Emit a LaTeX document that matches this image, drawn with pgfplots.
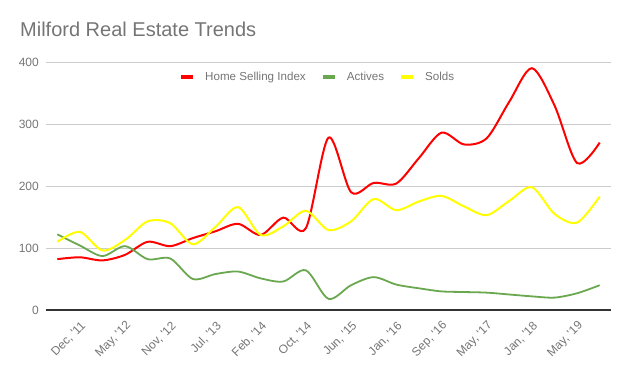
\documentclass[border=0pt]{standalone}
\usepackage{fontspec}
\setmainfont{Liberation Sans}[Ligatures=TeXOff]
\usepackage{pgfplots}
\usepackage{pgfplotstable}
\pgfplotsset{compat=1.18}
\definecolor{txtgray}{RGB}{117,117,117}
\definecolor{gridgray}{RGB}{204,204,204}
\definecolor{hsired}{RGB}{255,0,0}
\definecolor{actgreen}{RGB}{106,168,79}
\definecolor{soldyellow}{RGB}{255,255,0}
\pgfplotstableread{
k red yellow green
0 82 110 122
1 85 126 104
2 80 96 87
3 89 113 103
4 110 143 82
5 103 140 83
6 116 106 50
7 127 134 58
8 139 166 62
9 121 121 51
10 149 135 46
11 132 160 64
12 278 129 18
13 190 143 40
14 205 179 53
15 204 161 41
16 245 175 35
17 286 184 30
18 267 167 29
19 277 153 28
20 336 176 25
21 390 198 22
22 330 155 20
23 237 141 27
24 270 183 40
}\datatable
\begin{document}
\begin{tikzpicture}
\path[use as bounding box] (0,0) rectangle (630bp,371bp);
\node[anchor=base west, inner sep=0pt, text=txtgray, font=\fontsize{20bp}{24bp}\selectfont] at (20bp,334bp) {Milford Real Estate Trends};
\begin{axis}[
  at={(46bp,61bp)}, anchor=south west,
  scale only axis, width=565bp, height=248bp,
  xmin=-0.5, xmax=24.5, ymin=0, ymax=400,
  xtick={1,3,...,23},
  xticklabels={{Dec, '11},{May, '12},{Nov, '12},{Jul, '13},{Feb, '14},{Oct, '14},{Jun, '15},{Jan, '16},{Sep, '16},{May, '17},{Jan, '18},{May, '19}},
  ytick={100,200,300,400},
  extra y ticks={0},
  extra y tick style={major grid style={draw=black!80, line width=1.3bp}},
  ymajorgrids, major grid style={draw=gridgray, line width=0.8bp},
  axis line style={draw=none},
  major tick length=0pt,
  /pgf/number format/assume math mode=true,
  tick label style={font=\fontsize{12bp}{14bp}\selectfont, text=txtgray},
  xticklabel style={inner sep=0pt, xshift=4bp, yshift=-14bp, rotate=45, anchor=east},
  yticklabel style={inner sep=0pt, xshift=-7bp, anchor=east},
  legend columns=3,
  legend style={at={(axis description cs:0.2354,0.9395)}, anchor=west, draw=none, fill=none, inner sep=0pt,
    font=\fontsize{11.6bp}{14bp}\selectfont, text=txtgray,
    nodes={inner sep=0pt},
    /tikz/every odd column/.append style={column sep=10bp},
    /tikz/every even column/.append style={column sep=15bp}},
  legend image code/.code={\draw[#1, line width=4bp] (0bp,0bp) -- (12bp,0bp);},
]
\addplot[hsired, line width=2bp, smooth] table[x=k, y=red] {\datatable};
\addlegendentry{Home Selling Index}
\addplot[actgreen, line width=1.8bp, smooth] table[x=k, y=green] {\datatable};
\addlegendentry{Actives}
\addplot[soldyellow, line width=2bp, smooth] table[x=k, y=yellow] {\datatable};
\addlegendentry{Solds}
\end{axis}
\end{tikzpicture}
\end{document}
